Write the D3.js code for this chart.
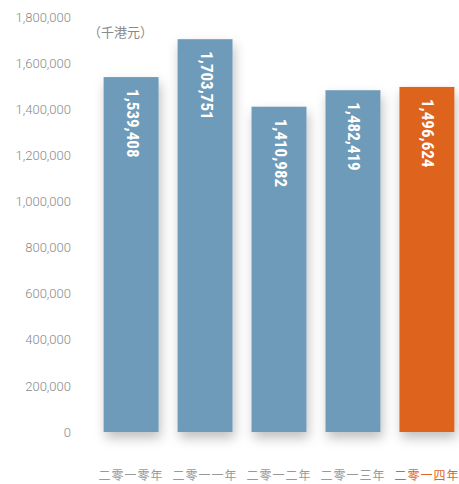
<!DOCTYPE html>
<html>
<head>
<meta charset="utf-8">
<script src="https://cdn.jsdelivr.net/npm/d3@7"></script>
<style>
  body { margin: 0; background: #fff; }
  svg text { font-family: Roboto, "DejaVu Sans", sans-serif; }
</style>
</head>
<body>
<div id="chart"></div>
<script>
var years = ["二零一零年", "二零一一年", "二零一二年", "二零一三年", "二零一四年"];
var values = [1539408, 1703751, 1410982, 1482419, 1496624];
var tickValues = [0, 200000, 400000, 600000, 800000, 1000000, 1200000, 1400000, 1600000, 1800000];
var unitLabel = "（千港元）";

var width = 459, height = 484;
var blue = "#6e9bb9", orange = "#de641e", grey = "#8a8a8a";

var svg = d3.select("#chart")
  .append("svg")
    .attr("width", width)
    .attr("height", height);

var defs = svg.append("defs");
var filter = defs.append("filter")
    .attr("id", "shadow")
    .attr("x", "-40%").attr("y", "-10%")
    .attr("width", "180%").attr("height", "130%");
filter.append("feDropShadow")
    .attr("dx", 2).attr("dy", 6)
    .attr("stdDeviation", 6)
    .attr("flood-color", "#000")
    .attr("flood-opacity", 0.25);

var y = d3.scaleLinear().domain([0, 1800000]).range([432, 17]);
var x = d3.scaleBand().domain(years).range([94, 464]).paddingInner(0.257).paddingOuter(0.13);

// y axis labels
var yAxis = svg.append("g")
    .attr("transform", "translate(71,0)")
    .call(d3.axisLeft(y).tickValues(tickValues).tickSize(0).tickPadding(0).tickFormat(d3.format(",")));
yAxis.select(".domain").remove();
yAxis.selectAll("text")
    .style("font-size", "13px")
    .style("font-weight", 300)
    .style("fill", grey);

svg.append("text")
    .attr("x", 88)
    .attr("y", 37)
    .style("font-size", "13px")
    .style("font-family", "'Noto Sans CJK TC', sans-serif")
    .style("fill", grey)
    .text(unitLabel);

var bars = svg.selectAll("g.bar")
    .data(years).enter()
  .append("g")
    .attr("class", "bar");

bars.append("rect")
    .attr("x", d => x(d))
    .attr("y", (d, i) => y(values[i]))
    .attr("width", x.bandwidth())
    .attr("height", (d, i) => y(0) - y(values[i]))
    .style("fill", (d, i) => i == years.length - 1 ? orange : blue)
    .attr("filter", "url(#shadow)");

bars.append("text")
    .attr("transform", (d, i) => "translate(" + (x(d) + x.bandwidth()/2) + "," + (y(values[i]) + 12) + ") rotate(90)")
    .style("font-family", "'Roboto Condensed', 'DejaVu Sans Condensed', sans-serif")
    .style("font-size", "17px")
    .style("font-weight", "bold")
    .style("fill", "#fff")
    .style("dominant-baseline", "middle")
    .style("text-anchor", "start")
    .text((d, i) => d3.format(",")(values[i]));

svg.selectAll("text.year")
    .data(years).enter()
  .append("text")
    .attr("class", "year")
    .attr("x", d => x(d) + x.bandwidth()/2)
    .attr("y", 480)
    .style("text-anchor", "middle")
    .style("font-size", "12px")
    .style("letter-spacing", "1px")
    .style("font-family", "'Noto Sans CJK TC', sans-serif")
    .style("fill", (d, i) => i == years.length - 1 ? orange : "#999")
    .text(d => d);
</script>
</body>
</html>
